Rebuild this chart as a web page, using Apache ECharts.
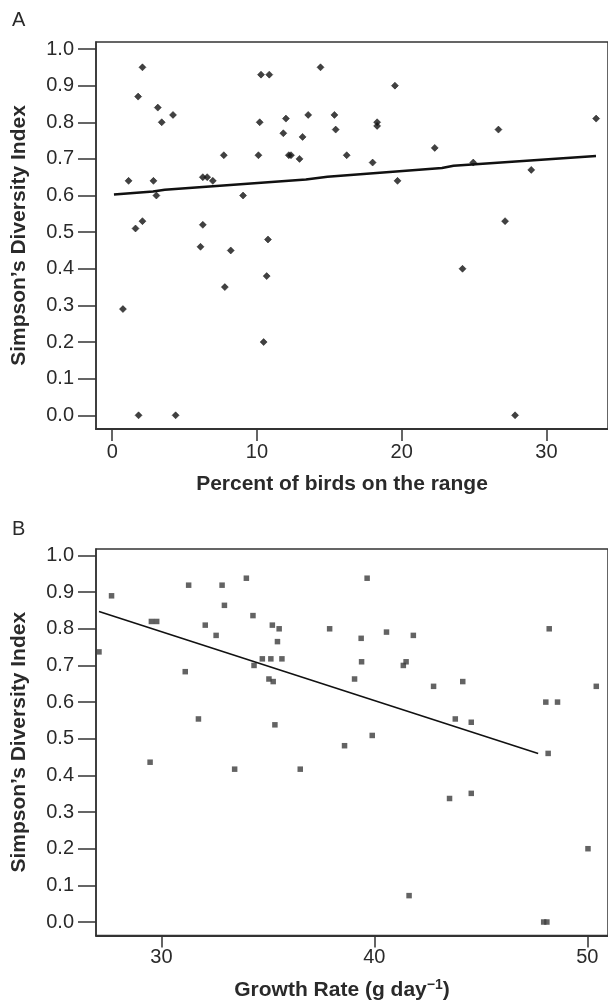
<!DOCTYPE html>
<html>
<head>
<meta charset="utf-8">
<script src="https://cdn.jsdelivr.net/npm/echarts@6/dist/echarts.min.js"></script>
<style>html,body{margin:0;padding:0;background:#fff}#c{width:608px;height:1002px}</style>
</head>
<body>
<div id="c"></div>
<script>
// Panel A: percent of birds on the range vs Simpson's index
const aX = [2.09,1.79,3.15,3.42,4.2,1.13,2.85,3.05,2.09,1.61,6.26,6.56,6.95,6.26,7.71,9.04,10.76,10.28,10.85,10.19,10.1,12.0,11.82,12.2,12.35,12.94,13.15,13.54,14.39,15.35,15.44,16.2,19.53,18.3,18.3,17.99,19.71,22.28,24.94,26.68,28.95,27.14,33.43,0.74,1.82,4.38,6.1,8.19,10.67,7.78,10.46,24.2,27.83];
const aY = [0.95,0.87,0.84,0.80,0.82,0.64,0.64,0.60,0.53,0.51,0.65,0.65,0.64,0.52,0.71,0.60,0.48,0.93,0.93,0.80,0.71,0.81,0.77,0.71,0.71,0.70,0.76,0.82,0.95,0.82,0.78,0.71,0.90,0.80,0.79,0.69,0.64,0.73,0.69,0.78,0.67,0.53,0.81,0.29,0.0,0.0,0.46,0.45,0.38,0.35,0.20,0.40,0.0];
const aLineX = [0.12,2.82,3.63,13.38,14.87,22.78,23.58,33.42];
const aLineY = [0.603,0.611,0.616,0.644,0.651,0.675,0.681,0.708];
const aTicksX = [0,10,20,30];

// Panel B: growth rate vs Simpson's index
const bX = [27.66,27.07,29.53,29.78,31.28,32.85,33.99,32.96,34.30,32.06,32.57,35.21,35.53,35.45,37.90,34.74,35.14,35.66,34.35,31.12,35.05,35.25,31.74,35.33,39.66,39.38,40.57,41.83,39.40,41.49,41.36,39.07,42.78,44.15,48.21,50.42,48.05,48.60,43.80,44.55,39.90,29.47,33.44,36.52,38.60,48.16,43.53,44.55,50.03,41.63,47.95,48.10];
const bY = [0.89,0.737,0.82,0.82,0.919,0.919,0.938,0.864,0.836,0.81,0.782,0.81,0.80,0.765,0.80,0.718,0.718,0.718,0.70,0.683,0.663,0.656,0.554,0.538,0.938,0.774,0.791,0.782,0.71,0.71,0.70,0.663,0.643,0.656,0.80,0.643,0.60,0.60,0.554,0.545,0.509,0.436,0.417,0.417,0.481,0.46,0.337,0.351,0.20,0.072,0.0,0.0];
const bLineX = [27.07,47.69];
const bLineY = [0.847,0.460];
const bTicksX = [30,40,50];

const yTicks = [0,0.1,0.2,0.3,0.4,0.5,0.6,0.7,0.8,0.9,1.0];
const yTitle = 'Simpson\u2019s Diversity Index';

const zip = (xs, ys) => xs.map((x, i) => [x, ys[i]]);
const FONT = '"Liberation Sans", Arial, sans-serif';
const ink = '#2a2a2a';

function yAxisDef(gi, min, max) {
  return {
    type: 'value', gridIndex: gi, min: min, max: max,
    axisLine: {show: true, onZero: false, lineStyle: {color: '#333', width: 1.5}},
    axisTick: {show: true, length: 18, lineStyle: {color: '#333', width: 1.5}, customValues: yTicks},
    axisLabel: {margin: 22, fontSize: 20, color: ink, fontFamily: FONT, customValues: yTicks, formatter: v => v.toFixed(1)},
    splitLine: {show: false},
    name: yTitle, nameLocation: 'middle', nameGap: 66,
    nameTextStyle: {fontSize: 21, fontWeight: 'bold', color: ink, fontFamily: FONT}
  };
}
function xAxisDef(gi, min, max, ticks, name, margin, gap) {
  return {
    type: 'value', gridIndex: gi, min: min, max: max,
    axisLine: {show: true, onZero: false, lineStyle: {color: '#333', width: 2}},
    axisTick: {show: true, length: 12, lineStyle: {color: '#333', width: 1.5}, customValues: ticks},
    axisLabel: {margin: margin, fontSize: 20, color: ink, fontFamily: FONT, customValues: ticks},
    splitLine: {show: false},
    name: name, nameLocation: 'middle', nameGap: gap,
    nameTextStyle: {fontSize: 21, fontWeight: 'bold', color: ink, fontFamily: FONT, padding: [0, 20, 0, 0],
      rich: {
        a: {fontSize: 21, fontWeight: 'bold', color: ink, fontFamily: FONT},
        s: {fontSize: 14, fontWeight: 'bold', color: ink, fontFamily: FONT, verticalAlign: 'top', padding: [0, 0, 10, 0]}
      }
    }
  };
}

const chart = echarts.init(document.getElementById('c'), null, {renderer: 'canvas'});
chart.setOption({
  animation: false,
  backgroundColor: '#fff',
  title: [
    {text: 'A', left: 12, top: 10, padding: 0, textStyle: {fontSize: 20, fontWeight: 'normal', color: ink, fontFamily: FONT}},
    {text: 'B', left: 12, top: 519, padding: 0, textStyle: {fontSize: 20, fontWeight: 'normal', color: ink, fontFamily: FONT}}
  ],
  grid: [
    {left: 96, top: 42, width: 514, height: 387, show: true, borderColor: '#333', borderWidth: 1.5, backgroundColor: 'transparent'},
    {left: 96, top: 549, width: 514, height: 387, show: true, borderColor: '#333', borderWidth: 1.5, backgroundColor: 'transparent'}
  ],
  xAxis: [
    xAxisDef(0, -1.12, 34.25, aTicksX, 'Percent of birds on the range', 13, 45),
    xAxisDef(1, 26.93, 50.97, bTicksX, '{a|Growth Rate (g day}{s|\u22121}{a|)}', 12, 43)
  ],
  yAxis: [
    yAxisDef(0, -0.0374, 1.0191),
    yAxisDef(1, -0.0368, 1.0177)
  ],
  series: [
    {type: 'scatter', xAxisIndex: 0, yAxisIndex: 0, data: zip(aX, aY), symbol: 'diamond', symbolSize: 7,
      itemStyle: {color: '#111', borderColor: '#111', borderWidth: 0.6}},
    {type: 'line', xAxisIndex: 0, yAxisIndex: 0, data: zip(aLineX, aLineY), showSymbol: false, symbol: 'none',
      lineStyle: {color: '#111', width: 2.5}},
    {type: 'scatter', xAxisIndex: 1, yAxisIndex: 1, data: zip(bX, bY), symbol: 'rect', symbolSize: 5.5,
      itemStyle: {color: '#3c3c3c'}},
    {type: 'line', xAxisIndex: 1, yAxisIndex: 1, data: zip(bLineX, bLineY), showSymbol: false, symbol: 'none',
      lineStyle: {color: '#111', width: 1.6}}
  ]
});
</script>
</body>
</html>
